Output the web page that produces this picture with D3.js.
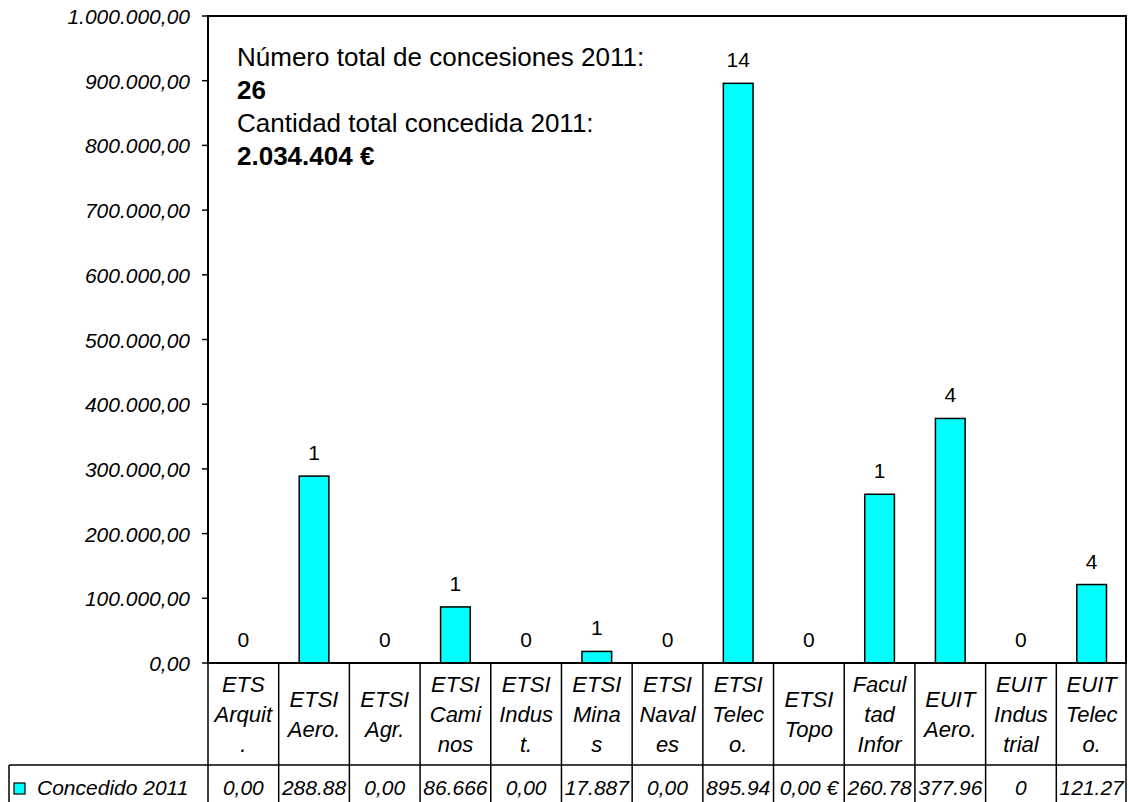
<!DOCTYPE html>
<html>
<head>
<meta charset="utf-8">
<script src="https://cdn.jsdelivr.net/npm/d3@7"></script>
<style>
  body { margin: 0; background: #fff; }
  svg { display: block; font-family: "Liberation Sans", Arial, sans-serif; }
</style>
</head>
<body>
<div id="chart"></div>
<script>
// data
const categories = [
  ["ETS", "Arquit", "."], ["ETSI", "Aero."], ["ETSI", "Agr."], ["ETSI", "Cami", "nos"],
  ["ETSI", "Indus", "t."], ["ETSI", "Mina", "s"], ["ETSI", "Naval", "es"], ["ETSI", "Telec", "o."],
  ["ETSI", "Topo"], ["Facul", "tad", "Infor"], ["EUIT", "Aero."], ["EUIT", "Indus", "trial"], ["EUIT", "Telec", "o."]
];
const amounts = [0, 288880, 0, 86666, 0, 17887, 0, 895940, 0, 260780, 377960, 0, 121270];
const counts = [0, 1, 0, 1, 0, 1, 0, 14, 0, 1, 4, 0, 4];
const cellTexts = ["0,00", "288.88", "0,00", "86.666", "0,00", "17.887", "0,00", "895.94", "0,00 €", "260.78", "377.96", "0", "121.27"];
const yTicks = [0, 100000, 200000, 300000, 400000, 500000, 600000, 700000, 800000, 900000, 1000000];
const seriesName = "Concedido 2011";
const notes = [
  { text: "Número total de concesiones 2011:", bold: false },
  { text: "26", bold: true },
  { text: "Cantidad total concedida 2011:", bold: false },
  { text: "2.034.404 €", bold: true }
];

const W = 1129, H = 802;
const mLeft = 208, mRight = 1127, mTop = 16, mBottom = 663;
const headBottom = 765;

const svg = d3.select("#chart").append("svg").attr("width", W).attr("height", H);

const x = d3.scaleBand().domain(d3.range(categories.length)).range([mLeft, mRight]);
const y = d3.scaleLinear().domain([0, 1000000]).range([mBottom, mTop]);

const fmt = v => d3.format(",.2f")(v).replace(/,/g, "#").replace(".", ",").replace(/#/g, ".");

// y axis labels
const yAxis = svg.append("g");
yAxis.selectAll("line").data(yTicks).join("line")
  .attr("x1", mLeft - 6).attr("x2", mLeft)
  .attr("y1", d => y(d)).attr("y2", d => y(d))
  .attr("stroke", "#000").attr("stroke-width", 1.5);
yAxis.selectAll("text").data(yTicks).join("text")
  .attr("x", mLeft - 18).attr("y", d => y(d) + 8)
  .attr("text-anchor", "end")
  .attr("font-size", 21).attr("font-style", "italic")
  .attr("fill", "#000")
  .text(d => fmt(d));

// bars
const bw = x.bandwidth() * 0.42;
svg.append("g").selectAll("rect")
  .data(amounts.map((v, i) => ({ v, i })).filter(d => d.v > 0))
  .join("rect")
  .attr("x", d => x(d.i) + (x.bandwidth() - bw) / 2)
  .attr("y", d => y(d.v))
  .attr("width", bw)
  .attr("height", d => y(0) - y(d.v))
  .attr("fill", "#00ffff")
  .attr("stroke", "#000")
  .attr("stroke-width", 1.5);

// count labels
svg.append("g").selectAll("text")
  .data(counts)
  .join("text")
  .attr("x", (d, i) => x(i) + x.bandwidth() / 2)
  .attr("y", (d, i) => y(amounts[i]) - 16)
  .attr("text-anchor", "middle")
  .attr("font-size", 21)
  .attr("fill", "#000")
  .text(d => d);

// plot frame
svg.append("rect")
  .attr("x", mLeft).attr("y", mTop)
  .attr("width", mRight - mLeft - 1).attr("height", mBottom - mTop)
  .attr("fill", "none").attr("stroke", "#000").attr("stroke-width", 2);

// notes
const noteG = svg.append("g");
notes.forEach((n, i) => {
  noteG.append("text")
    .attr("x", 237).attr("y", 66 + i * 33)
    .attr("font-size", 26)
    .attr("font-weight", n.bold ? "bold" : "normal")
    .attr("fill", "#000")
    .text(n.text);
});

// data table
const tbl = svg.append("g");
tbl.append("line").attr("x1", 9).attr("x2", mRight).attr("y1", headBottom).attr("y2", headBottom)
  .attr("stroke", "#000").attr("stroke-width", 1.5);
tbl.append("line").attr("x1", 9).attr("x2", 9).attr("y1", headBottom).attr("y2", H)
  .attr("stroke", "#000").attr("stroke-width", 1.5);
tbl.selectAll("line.v").data(d3.range(categories.length + 1)).join("line")
  .attr("class", "v")
  .attr("x1", i => i < categories.length ? x(i) : mRight - 1)
  .attr("x2", i => i < categories.length ? x(i) : mRight - 1)
  .attr("y1", mBottom).attr("y2", H)
  .attr("stroke", "#000").attr("stroke-width", 1.5);

// category headers
const head = tbl.selectAll("g.cat").data(categories).join("g").attr("class", "cat");
head.each(function (lines, i) {
  const cx = x(i) + x.bandwidth() / 2;
  const mid = (mBottom + headBottom) / 2;
  const lh = 30;
  const y0 = mid - (lines.length - 1) * lh / 2 + 8;
  d3.select(this).selectAll("text").data(lines).join("text")
    .attr("x", cx).attr("y", (d, k) => y0 + k * lh)
    .attr("text-anchor", "middle")
    .attr("font-size", 22).attr("font-style", "italic")
    .attr("fill", "#000")
    .text(d => d);
});

// value cells
tbl.selectAll("text.val").data(cellTexts).join("text")
  .attr("class", "val")
  .attr("x", (d, i) => x(i) + x.bandwidth() / 2)
  .attr("y", 795)
  .attr("text-anchor", "middle")
  .attr("font-size", 21).attr("font-style", "italic")
  .attr("fill", "#000")
  .text(d => d);

// legend
tbl.append("rect").attr("x", 14).attr("y", 783).attr("width", 11).attr("height", 11)
  .attr("fill", "#00ffff").attr("stroke", "#000").attr("stroke-width", 1.2);
tbl.append("text").attr("x", 37).attr("y", 795)
  .attr("font-size", 21).attr("font-style", "italic").attr("fill", "#000")
  .text(seriesName);
</script>
</body>
</html>
